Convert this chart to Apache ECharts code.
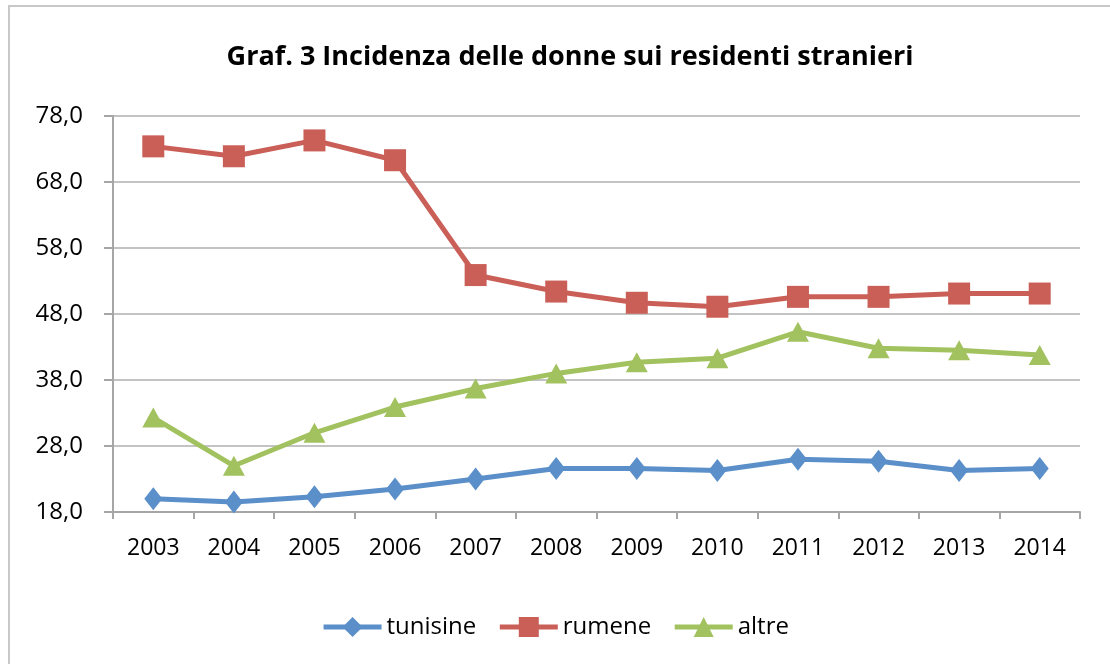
<!DOCTYPE html>
<html>
<head>
<meta charset="utf-8">
<script src="https://cdn.jsdelivr.net/npm/echarts@6/dist/echarts.min.js"></script>
<style>
html,body{margin:0;padding:0;background:#fff;}
#main{width:1110px;height:664px;}
</style>
</head>
<body>
<div id="main"></div>
<script>
const years = ['2003','2004','2005','2006','2007','2008','2009','2010','2011','2012','2013','2014'];
const tunisine = [20.0, 19.5, 20.3, 21.5, 23.0, 24.6, 24.6, 24.3, 26.0, 25.7, 24.3, 24.6];
const rumene = [73.4, 71.9, 74.3, 71.3, 53.9, 51.4, 49.7, 49.1, 50.6, 50.6, 51.1, 51.1];
const altre = [32.3, 25.0, 30.0, 33.9, 36.7, 39.0, 40.7, 41.3, 45.3, 42.8, 42.5, 41.8];
const seriesNames = ['tunisine', 'rumene', 'altre'];
const titleText = 'Graf. 3 Incidenza delle donne sui residenti stranieri';

const FONT = 'Open Sans';
const colors = ['#5A8FC9', '#CA5F58', '#A2C15F'];

const chart = echarts.init(document.getElementById('main'));
function mk(name, data, color, symbol, size) {
  return {
    name: name, type: 'line', data: data,
    symbol: symbol, symbolSize: size,
    itemStyle: {color: color},
    lineStyle: {color: color, width: 5},
    animation: false
  };
}
chart.setOption({
  animation: false,
  textStyle: {fontFamily: FONT},
  title: {
    text: titleText, left: 565, textAlign: 'center', top: 39,
    textStyle: {fontFamily: FONT, fontWeight: 'bold', fontSize: 27, color: '#000'}
  },
  graphic: [{
    type: 'rect', shape: {x: 9, y: 6, width: 1200, height: 700},
    style: {fill: 'none', stroke: '#c8c8c8', lineWidth: 2}, silent: true, z: -1
  }],
  legend: {
    data: seriesNames, bottom: 20, left: 'center',
    itemWidth: 58, itemHeight: 25, itemGap: 21,
    lineStyle: {width: 5},
    textStyle: {fontFamily: FONT, fontSize: 24, color: '#000'}
  },
  grid: {left: 113, right: 30, top: 116, bottom: 152},
  xAxis: {
    type: 'category', data: years, boundaryGap: true,
    axisLine: {lineStyle: {color: '#a6a6a6', width: 2}},
    axisTick: {show: true, interval: 0, length: 7, lineStyle: {color: '#a6a6a6', width: 2}},
    axisLabel: {margin: 25, fontFamily: FONT, fontSize: 23, color: '#000', interval: 0}
  },
  yAxis: {
    type: 'value', min: 18, max: 78, interval: 10,
    axisLine: {show: true, lineStyle: {color: '#a6a6a6', width: 2}},
    axisTick: {show: true, length: 9, lineStyle: {color: '#a6a6a6', width: 2}},
    splitLine: {lineStyle: {color: '#c3c3c3', width: 2}},
    axisLabel: {margin: 30, fontFamily: FONT, fontSize: 24, color: '#000',
      formatter: v => v.toFixed(1).replace('.', ',')}
  },
  series: [
    mk(seriesNames[0], tunisine, colors[0], 'diamond', [18, 23]),
    mk(seriesNames[1], rumene, colors[1], 'rect', 22),
    mk(seriesNames[2], altre, colors[2], 'triangle', [22, 20])
  ]
});
</script>
</body>
</html>
